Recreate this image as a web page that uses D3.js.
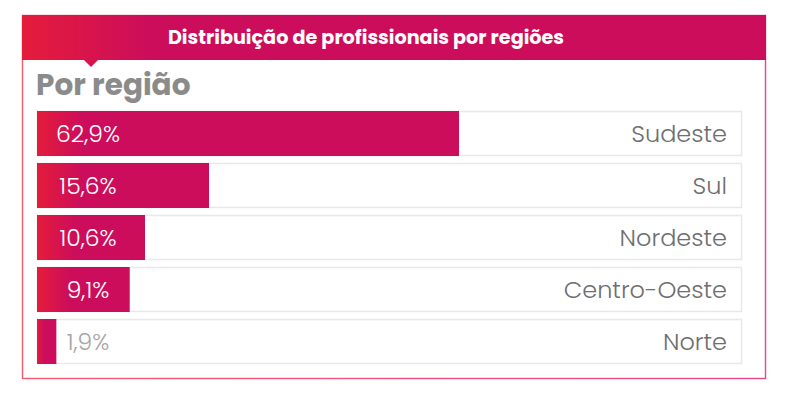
<!DOCTYPE html>
<html><head><meta charset="utf-8">
<script src="https://cdn.jsdelivr.net/npm/d3@7"></script>
<style>body{margin:0;background:#fff}svg{display:block}</style>
</head><body>
<svg id="chart" width="791" height="399"></svg>
<script>
const title = "Distribuição de profissionais por regiões";
const subtitle = "Por região";
const categories = ["Sudeste", "Sul", "Nordeste", "Centro-Oeste", "Norte"];
const values = [62.9, 15.6, 10.6, 9.1, 1.9];
const valueLabels = ["62,9%", "15,6%", "10,6%", "9,1%", "1,9%"];

const svg = d3.select("#chart");
const box = {x: 22.5, y: 15.5, w: 743, h: 363};
const track = {x: 37, w: 705, top: 111, h: 45, step: 52};
const RED = "#e41c3b", MAG = "#cc0d5b";

const defs = svg.append("defs");
function grad(id, x1, x2, c1, c2) {
  const g = defs.append("linearGradient").attr("id", id)
    .attr("gradientUnits", "userSpaceOnUse")
    .attr("x1", x1).attr("x2", x2).attr("y1", 0).attr("y2", 0);
  g.append("stop").attr("offset", 0).attr("stop-color", c1);
  g.append("stop").attr("offset", 1).attr("stop-color", c2);
}
grad("hdr", 22, 150, RED, MAG);
grad("brd", 22, 766, "#f35a6e", "#e4478a");

svg.append("rect").attr("x", box.x).attr("y", box.y).attr("width", box.w).attr("height", box.h)
  .attr("fill", "#fff").attr("stroke", "url(#brd)").attr("stroke-width", 1.4);
svg.append("rect").attr("x", 22).attr("y", 15).attr("width", 744).attr("height", 45).attr("fill", "url(#hdr)");
svg.append("path").attr("d", "M84,60 L98,60 L91,67 Z").attr("fill", "#d8134c");
svg.append("text").attr("x", 366).attr("y", 43.5).attr("text-anchor", "middle")
  .attr("font-family", "Poppins, Inter, 'Open Sans', sans-serif").attr("font-weight", 700)
  .attr("font-size", 19.2).attr("fill", "#fff").text(title);
svg.append("text").attr("x", 36).attr("y", 95).attr("font-family", "Poppins, Inter, 'Open Sans', sans-serif")
  .attr("font-weight", 700).attr("font-size", 29.5).attr("fill", "#8b8b8b").text(subtitle);

const y = d3.scaleBand().domain(categories)
  .range([track.top, track.top + track.step * 4 + track.h])
  .paddingInner((track.step - track.h) / track.step).paddingOuter(0);
// visual bar scale (the infographic uses a non-uniform scale)
const x = d3.scaleLinear().domain([0, 10.6, 15.6, 62.9]).range([0, 108, 172, 422]);

const data = categories.map((c, i) => ({c, v: values[i], l: valueLabels[i], i}));
data.forEach(d => {
  const w = x(d.v);
  const g = defs.append("linearGradient").attr("id", "bar" + d.i).attr("x1", 0).attr("x2", 1).attr("y1", 0).attr("y2", 0);
  g.append("stop").attr("offset", 0).attr("stop-color", RED);
  g.append("stop").attr("offset", Math.min(45 / w, 0.35)).attr("stop-color", MAG);
  g.append("stop").attr("offset", 1).attr("stop-color", MAG);
});

const rows = svg.append("g").selectAll("g").data(data)
  .join("g").attr("transform", d => `translate(0,${y(d.c)})`);
rows.append("rect").attr("x", track.x + 0.5).attr("y", 0.5).attr("width", track.w - 1).attr("height", y.bandwidth() - 1)
  .attr("fill", "#fff").attr("stroke", "#e8e8e8").attr("stroke-width", 1.5);
rows.append("rect").attr("x", track.x).attr("y", 0).attr("width", d => x(d.v)).attr("height", y.bandwidth())
  .attr("fill", d => `url(#bar${d.i})`);
rows.append("text").attr("x", 88).attr("y", 31).attr("text-anchor", "middle")
  .attr("font-family", "Poppins, Roboto, Lato, sans-serif").attr("font-weight", 300).attr("font-size", 23.5)
  .attr("fill", d => x(d.v) > 60 ? "#fff" : "#a6a6a6").text(d => d.l);
rows.append("text").attr("x", 727).attr("y", 31).attr("text-anchor", "end")
  .attr("font-family", "Poppins, Roboto, Lato, sans-serif").attr("font-weight", 300).attr("font-size", 24)
  .attr("fill", "#6e6e6e").text(d => d.c);
</script>
</body></html>
